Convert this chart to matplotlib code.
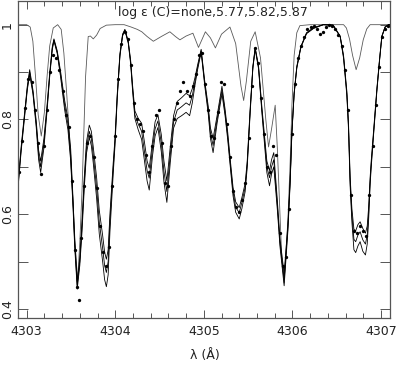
import matplotlib
matplotlib.use("Agg")
import matplotlib.pyplot as plt
from matplotlib.ticker import MultipleLocator, FuncFormatter

# Synthetic spectra for log eps(C) = 5.77, 5.82, 5.87 (same wavelength points)
WL_SYN = [
    4302.900, 4302.939, 4302.977, 4303.007, 4303.034, 4303.071, 4303.108, 4303.135,
    4303.158, 4303.195, 4303.233, 4303.260, 4303.289, 4303.308, 4303.345, 4303.384,
    4303.429, 4303.466, 4303.497, 4303.523, 4303.542, 4303.571, 4303.600, 4303.625,
    4303.650, 4303.675, 4303.707, 4303.730, 4303.752, 4303.790, 4303.820, 4303.858,
    4303.880, 4303.900, 4303.920, 4303.940, 4303.977, 4303.997, 4304.023, 4304.053,
    4304.083, 4304.109, 4304.147, 4304.174, 4304.196, 4304.222, 4304.260, 4304.298,
    4304.330, 4304.360, 4304.384, 4304.420, 4304.450, 4304.482, 4304.520, 4304.550,
    4304.583, 4304.621, 4304.659, 4304.700, 4304.750, 4304.800, 4304.840, 4304.870,
    4304.900, 4304.930, 4304.970, 4305.010, 4305.050, 4305.075, 4305.105, 4305.150,
    4305.205, 4305.240, 4305.270, 4305.300, 4305.330, 4305.360, 4305.400, 4305.430,
    4305.467, 4305.490, 4305.524, 4305.554, 4305.580, 4305.618, 4305.656, 4305.693,
    4305.712, 4305.742, 4305.765, 4305.790, 4305.830, 4305.860, 4305.907, 4305.950,
    4305.975, 4305.994, 4306.020, 4306.050, 4306.096, 4306.160, 4306.240, 4306.350,
    4306.460, 4306.540, 4306.578, 4306.615, 4306.634, 4306.652, 4306.672, 4306.695,
    4306.715, 4306.740, 4306.765, 4306.795, 4306.825, 4306.845, 4306.860, 4306.878,
    4306.890, 4306.916, 4306.954, 4306.984, 4307.010, 4307.047, 4307.086, 4307.100,
]

FLUX_577 = [
    .660, .745, .815, .870, .905, .862, .797, .735,
    .712, .760, .836, .898, .953, .970, .945, .900,
    .840, .802, .738, .635, .548, .458, .508, .587,
    .677, .752, .788, .775, .742, .677, .608, .555,
    .520, .505, .525, .600, .708, .760, .855, .939,
    .980, .990, .965, .925, .872, .818, .802, .792,
    .752, .712, .697, .752, .795, .810, .768, .712,
    .670, .742, .808, .838, .846, .855, .850, .865,
    .888, .915, .948, .882, .828, .782, .760, .808,
    .870, .822, .773, .713, .657, .626, .614, .635,
    .665, .712, .825, .912, .952, .913, .826, .752,
    .712, .692, .715, .730, .630, .548, .475, .580,
    .675, .773, .857, .912, .954, .983, .994, 1.000,
    .999, .976, .935, .860, .792, .680, .612, .568,
    .565, .578, .584, .570, .560, .575, .612, .678,
    .712, .775, .865, .927, .976, .995, 1.000, 1.000,
]

FLUX_582 = [
    .655, .740, .810, .866, .900, .858, .790, .725,
    .700, .750, .830, .894, .950, .968, .942, .894,
    .830, .790, .725, .625, .540, .450, .500, .575,
    .665, .740, .775, .760, .725, .655, .583, .528,
    .492, .477, .500, .583, .697, .752, .850, .936,
    .978, .989, .963, .921, .866, .810, .790, .775,
    .732, .692, .676, .738, .780, .797, .750, .690,
    .648, .725, .795, .820, .827, .835, .830, .850,
    .880, .910, .945, .877, .820, .771, .745, .800,
    .862, .815, .765, .705, .648, .615, .603, .625,
    .657, .705, .820, .910, .950, .910, .820, .742,
    .700, .677, .700, .715, .620, .540, .462, .573,
    .670, .770, .855, .910, .953, .982, .993, 1.000,
    .999, .975, .932, .855, .785, .670, .598, .547,
    .542, .556, .563, .546, .537, .556, .598, .670,
    .705, .770, .862, .925, .975, .995, 1.000, 1.000,
]

FLUX_587 = [
    .650, .735, .805, .862, .895, .854, .783, .715,
    .688, .740, .824, .890, .947, .966, .939, .888,
    .820, .778, .712, .615, .532, .442, .492, .563,
    .653, .728, .762, .745, .708, .633, .558, .500,
    .462, .447, .472, .562, .685, .744, .845, .933,
    .976, .988, .961, .917, .860, .802, .778, .758,
    .712, .670, .651, .722, .765, .783, .732, .668,
    .625, .708, .782, .802, .808, .815, .808, .835,
    .872, .905, .942, .872, .812, .760, .730, .792,
    .854, .808, .757, .697, .639, .604, .590, .612,
    .648, .698, .815, .908, .948, .907, .814, .732,
    .688, .660, .685, .700, .610, .532, .449, .566,
    .665, .767, .853, .908, .952, .981, .992, 1.000,
    .999, .974, .929, .850, .778, .660, .584, .525,
    .519, .533, .542, .522, .514, .537, .584, .662,
    .698, .765, .859, .923, .974, .995, 1.000, 1.000,
]

# Synthetic spectrum without carbon
WL_NONE = [
    4302.900, 4303.000, 4303.040, 4303.070, 4303.100, 4303.130, 4303.165, 4303.200,
    4303.230, 4303.260, 4303.300, 4303.350, 4303.390, 4303.420, 4303.450, 4303.475,
    4303.500, 4303.525, 4303.545, 4303.575, 4303.600, 4303.625, 4303.640, 4303.665,
    4303.695, 4303.720, 4303.752, 4303.790, 4303.830, 4303.900, 4304.000, 4304.100,
    4304.180, 4304.250, 4304.300, 4304.360, 4304.430, 4304.520, 4304.617, 4304.680,
    4304.730, 4304.800, 4304.877, 4304.940, 4305.018, 4305.075, 4305.131, 4305.200,
    4305.295, 4305.360, 4305.420, 4305.450, 4305.480, 4305.530, 4305.580, 4305.640,
    4305.700, 4305.731, 4305.765, 4305.806, 4305.830, 4305.860, 4305.880, 4305.907,
    4305.950, 4305.975, 4305.995, 4306.020, 4306.050, 4306.085, 4306.200, 4306.578,
    4306.610, 4306.645, 4306.680, 4306.720, 4306.760, 4306.800, 4306.840, 4306.878,
    4307.100,
]
FLUX_NONE = [
    1.000, 1.000, .995, .965, .890, .810, .765, .815,
    .890, .955, .993, 1.000, .990, .940, .860, .790,
    .705, .620, .545, .460, .540, .650, .740, .890,
    .975, .976, .970, .978, .992, .999, 1.000, 1.000,
    .995, .990, .985, .975, .965, .975, .985, .975,
    .968, .976, .982, .952, .985, .972, .951, .980,
    .995, .960, .870, .840, .880, .965, .985, .930,
    .800, .742, .780, .830, .740, .600, .510, .455,
    .590, .710, .830, .935, .983, .998, 1.000, 1.000,
    .993, .970, .935, .905, .930, .968, .991, 1.000,
    1.000,
]

# Observed spectrum
WL_OBS = [
    4302.915, 4302.950, 4302.985, 4303.020, 4303.055, 4303.090, 4303.125, 4303.160,
    4303.195, 4303.230, 4303.265, 4303.300, 4303.335, 4303.370, 4303.405, 4303.440,
    4303.475, 4303.510, 4303.545, 4303.572, 4303.590, 4303.615, 4303.650, 4303.685,
    4303.720, 4303.755, 4303.790, 4303.825, 4303.860, 4303.895, 4303.930, 4303.965,
    4304.000, 4304.035, 4304.070, 4304.105, 4304.140, 4304.175, 4304.210, 4304.245,
    4304.280, 4304.315, 4304.350, 4304.385, 4304.420, 4304.455, 4304.490, 4304.525,
    4304.560, 4304.595, 4304.630, 4304.665, 4304.700, 4304.735, 4304.770, 4304.805,
    4304.840, 4304.875, 4304.910, 4304.945, 4304.980, 4305.015, 4305.050, 4305.085,
    4305.120, 4305.155, 4305.190, 4305.225, 4305.260, 4305.295, 4305.330, 4305.365,
    4305.400, 4305.435, 4305.470, 4305.505, 4305.540, 4305.575, 4305.610, 4305.645,
    4305.680, 4305.715, 4305.750, 4305.785, 4305.815, 4305.855, 4305.890, 4305.925,
    4305.960, 4305.995, 4306.030, 4306.065, 4306.100, 4306.135, 4306.170, 4306.205,
    4306.240, 4306.275, 4306.310, 4306.345, 4306.380, 4306.415, 4306.450, 4306.485,
    4306.520, 4306.555, 4306.590, 4306.625, 4306.660, 4306.695, 4306.730, 4306.765,
    4306.800, 4306.835, 4306.870, 4306.905, 4306.940, 4306.975, 4307.010, 4307.045,
    4307.080,
]
FLUX_OBS = [
    .690, .755, .825, .885, .880, .820, .750, .685,
    .745, .820, .900, .935, .930, .905, .860, .810,
    .785, .670, .525, .446, .420, .550, .660, .750,
    .765, .720, .655, .575, .520, .490, .530, .660,
    .765, .885, .960, .985, .970, .915, .835, .800,
    .790, .775, .725, .690, .745, .810, .820, .750,
    .665, .660, .745, .800, .835, .860, .880, .860,
    .850, .870, .895, .935, .940, .875, .820, .765,
    .760, .815, .880, .875, .790, .720, .650, .615,
    .605, .630, .665, .760, .870, .950, .920, .845,
    .770, .700, .690, .745, .725, .560, .490, .510,
    .610, .770, .875, .930, .955, .975, .990, .995,
    .998, .990, .980, .985, .995, .999, .997, .990,
    .978, .955, .905, .820, .640, .565, .560, .575,
    .565, .555, .640, .745, .830, .910, .975, .990,
    .998,
]

TITLE = "log \u03b5 (C)=none,5.77,5.82,5.87"
XLABEL = "\u03bb (\u00c5)"
FRAME = "#555555"


def y_label(value, pos):
    # Only every second tick (0.4, 0.6, ...) gets a label
    tenths = int(round(value * 10))
    if tenths % 2:
        return ""
    if tenths == 10:
        return "1"
    return "%.1f" % value


def make_plot():
    fig = plt.figure(figsize=(3.97, 3.65), dpi=100)
    ax = fig.add_axes([0.0453, 0.1288, 0.9370, 0.8685])

    ax.plot(WL_NONE, FLUX_NONE, color="0.35", lw=0.6)
    for flux in (FLUX_577, FLUX_582, FLUX_587):
        ax.plot(WL_SYN, flux, color="black", lw=0.6)
    ax.plot(WL_OBS, FLUX_OBS, "o", color="black", ms=2.4, mew=0)

    ax.set_xlim(4302.902, 4307.102)
    ax.set_ylim(0.381, 1.050)

    ax.xaxis.set_major_locator(MultipleLocator(1))
    ax.xaxis.set_minor_locator(MultipleLocator(0.2))
    ax.xaxis.set_major_formatter(FuncFormatter(lambda v, p: "%d" % round(v)))
    ax.yaxis.set_major_locator(MultipleLocator(0.1))
    ax.yaxis.set_major_formatter(FuncFormatter(y_label))

    ax.tick_params(which="both", direction="in", top=True, right=True,
                   width=0.7, color=FRAME, labelsize=9, labelcolor="#222222")
    ax.tick_params(axis="x", which="major", length=6, pad=5)
    ax.tick_params(axis="x", which="minor", length=3.5)
    ax.tick_params(axis="y", which="major", length=7, pad=3)
    for lab in ax.get_yticklabels():
        lab.set_rotation(90)
        lab.set_va("center")

    for spine in ax.spines.values():
        spine.set_color(FRAME)
        spine.set_linewidth(0.9)

    ax.text(0.523, 0.965, TITLE, transform=ax.transAxes, ha="center",
            va="center", fontsize=9, color="#222222")
    fig.text(205 / 397, 1 - 355 / 365, XLABEL, ha="center", va="center",
             fontsize=9, color="#222222")

    fig.savefig("out.png", dpi=100)


if __name__ == "__main__":
    make_plot()
